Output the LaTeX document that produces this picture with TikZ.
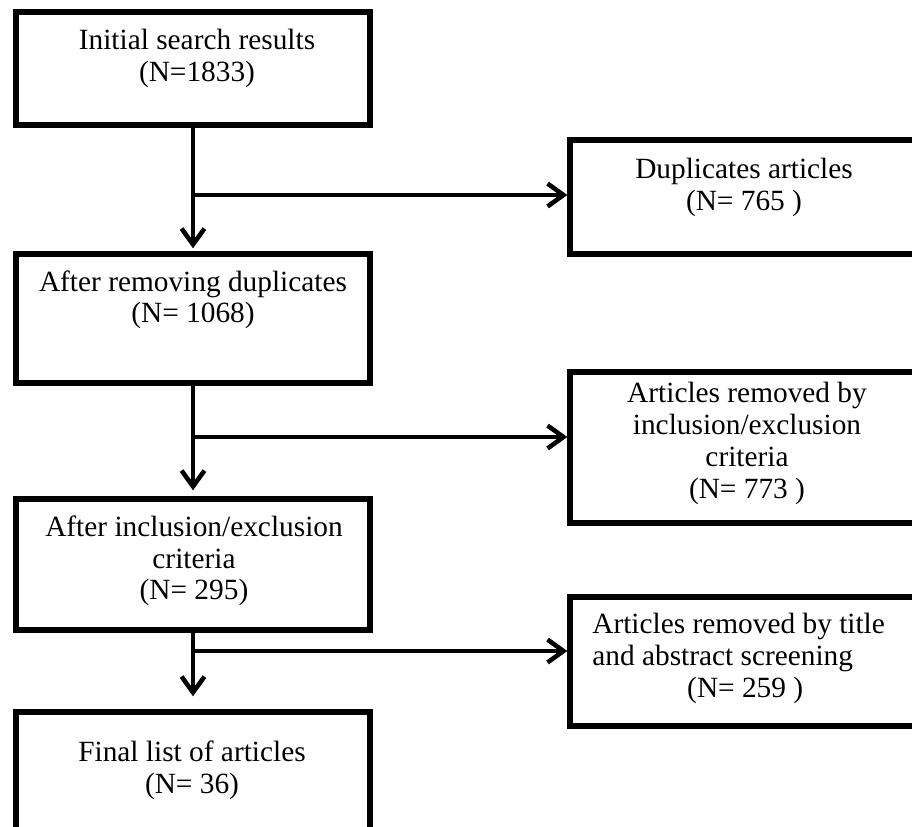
\documentclass[tikz,border=0pt]{standalone}
\usepackage{fontspec}
\setmainfont{Liberation Serif}
\usetikzlibrary{arrows.meta}

\begin{document}
\begin{tikzpicture}[x=0.02cm, y=-0.02cm]

    \tikzstyle{box} = [draw, rectangle, line width=3.1pt, inner sep=0pt]
    \tikzstyle{lbox} = [box, minimum width=7.08cm]
    \tikzstyle{rbox} = [box, minimum width=7.3cm]
    \tikzstyle{txt} = [anchor=north, align=center, inner sep=0pt, font=\fontsize{16.7pt}{18.2pt}\selectfont]
    \tikzstyle{link} = [line width=2.6pt, -{Straight Barb[length=9pt, width=13pt]}]

    \clip (0,0) rectangle (912,826);

    % left column
    \node[lbox, minimum height=2.26cm] (b1) at (193,68.5) {};
    \node[lbox, minimum height=2.58cm] (b3) at (193,318.5) {};
    \node[lbox, minimum height=2.62cm] (b5) at (193,564.5) {};
    \node[lbox, minimum height=3.52cm] (b7) at (193,800) {};

    % right column
    \node[rbox, minimum height=2.28cm] (b2) at (752.5,197) {};
    \node[rbox, minimum height=3.02cm] (b4) at (752.5,447.5) {};
    \node[rbox, minimum height=2.58cm] (b6) at (752.5,661.5) {};

    \node[txt] (t1) at (197,29)  {Initial search results\\(N=1833)};
    \node[txt] (t3) at (193,270) {After removing duplicates\\(N= 1068)};
    \node[txt] (t5) at (194,515) {After inclusion/exclusion\\criteria\\(N= 295)};
    \node[txt] (t7) at (192,740) {Final list of articles\\(N= 36)};

    \node[txt] (t2) at (744,158) {Duplicates articles\\(N= 765 )};
    \node[txt] (t4) at (747,382) {Articles removed by\\inclusion/exclusion\\criteria\\(N= 773 )};
    \node[txt, anchor=north west, align=left] (t6) at (592,613)
        {Articles removed by title\\and abstract screening\\\hspace*{54pt}(N= 259 )};

    \coordinate (j1) at (193,195);
    \coordinate (j2) at (193,437);
    \coordinate (j3) at (193,651);

    \draw[link, shorten >=0.06cm] (b1.south) -- (b3.north);
    \draw[link, shorten >=0.12cm] (b3.south) -- (b5.north);
    \draw[link, shorten >=0.26cm] (b5.south) -- (b7.north);

    \draw[link] (j1) -- (j1 -| b2.west);
    \draw[link] (j2) -- (j2 -| b4.west);
    \draw[link] (j3) -- (j3 -| b6.west);
\end{tikzpicture}
\end{document}
